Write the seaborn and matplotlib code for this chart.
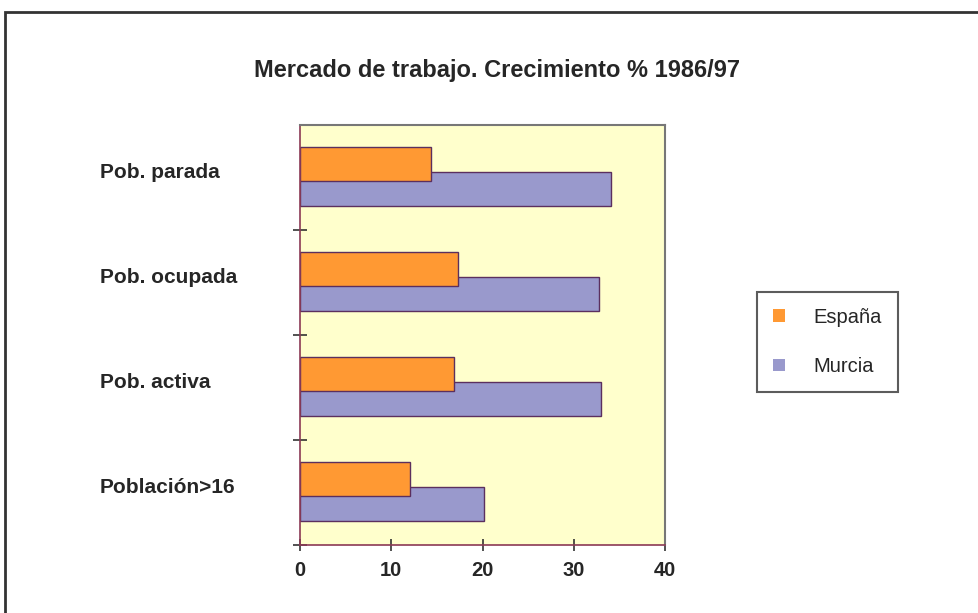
import matplotlib
matplotlib.use('Agg')
import matplotlib.pyplot as plt
import matplotlib.patches as mpatches
import seaborn as sns
import numpy as np
import pandas as pd

# Data
categorias = ["Pob. parada", "Pob. ocupada", "Pob. activa", "Población>16"]
espana = [14.4, 17.3, 16.9, 12.0]
murcia = [34.1, 32.8, 33.0, 20.2]
series = ["España", "Murcia"]
x_ticks = [0, 10, 20, 30, 40]

COLOR_ES = "#FF9933"
COLOR_MU = "#9999CC"
EDGE = "#5B2F5E"

sns.set_theme(style="white")
plt.rcParams['font.family'] = ['Liberation Sans', 'DejaVu Sans']

fig = plt.figure(figsize=(9.79, 6.13), dpi=100)
ax = fig.add_axes([300 / 979, 1 - 545 / 613, 365 / 979, 420 / 613])
ax.set_facecolor("#FFFFCC")

pos = np.arange(len(categorias))
df_mu = pd.DataFrame({"valor": murcia, "pos": pos + 0.11})
df_es = pd.DataFrame({"valor": espana, "pos": pos - 0.13})

# Murcia first so España overlaps on top
sns.barplot(data=df_mu, x="valor", y="pos", orient="h", native_scale=True,
            width=0.32, color=COLOR_MU, saturation=1, edgecolor=EDGE,
            linewidth=1.0, ax=ax)
sns.barplot(data=df_es, x="valor", y="pos", orient="h", native_scale=True,
            width=0.32, color=COLOR_ES, saturation=1, edgecolor=EDGE,
            linewidth=1.0, ax=ax)

ax.set_xlim(0, 40)
ax.set_ylim(len(categorias) - 0.5, -0.5)
ax.set_xlabel("")
ax.set_ylabel("")

ax.set_xticks(x_ticks)
ax.set_xticklabels([str(t) for t in x_ticks], fontsize=14.5, fontweight="bold")
ax.tick_params(axis="x", direction="inout", length=9, width=1.2, color="#333333",
               bottom=True, pad=7)

ax.set_yticks(pos - 0.07)
ax.set_yticklabels(categorias, fontsize=15, fontweight="bold", ha="left")
ax.tick_params(axis="y", length=0, pad=144)
ax.set_yticks(np.arange(1, len(categorias) + 1) - 0.5, minor=True)
ax.tick_params(axis="y", which="minor", direction="inout", length=10, width=1.2,
               color="#333333", left=True)

for side in ["left", "bottom"]:
    ax.spines[side].set_color("#8B3A55")
    ax.spines[side].set_linewidth(1.2)
for side in ["top", "right"]:
    ax.spines[side].set_color("#777777")
    ax.spines[side].set_linewidth(1.5)

fig.text(497 / 979, 1 - 70 / 613, "Mercado de trabajo. Crecimiento % 1986/97",
         ha="center", va="center", fontsize=17, fontweight="bold")

handles = [mpatches.Patch(facecolor=COLOR_ES, edgecolor="none"),
           mpatches.Patch(facecolor=COLOR_MU, edgecolor="none")]
leg = fig.legend(handles, series, loc="center left",
                 bbox_to_anchor=(757 / 979, 1 - 342 / 613),
                 frameon=True, fancybox=False, fontsize=14.5,
                 handlelength=0.6, handleheight=0.6, handletextpad=1.4,
                 labelspacing=1.5, borderpad=0.8, borderaxespad=0)
leg.get_frame().set_edgecolor("#333333")
leg.get_frame().set_linewidth(1.5)

# outer chart border (top and left edges visible, rest cut off)
fig.patches.append(mpatches.Rectangle((5 / 979, -0.2), 1.5, 1.2 - 12 / 613,
                                      transform=fig.transFigure, fill=False,
                                      edgecolor="#333333", linewidth=2,
                                      clip_on=False))

fig.savefig("out.png", dpi=100)
